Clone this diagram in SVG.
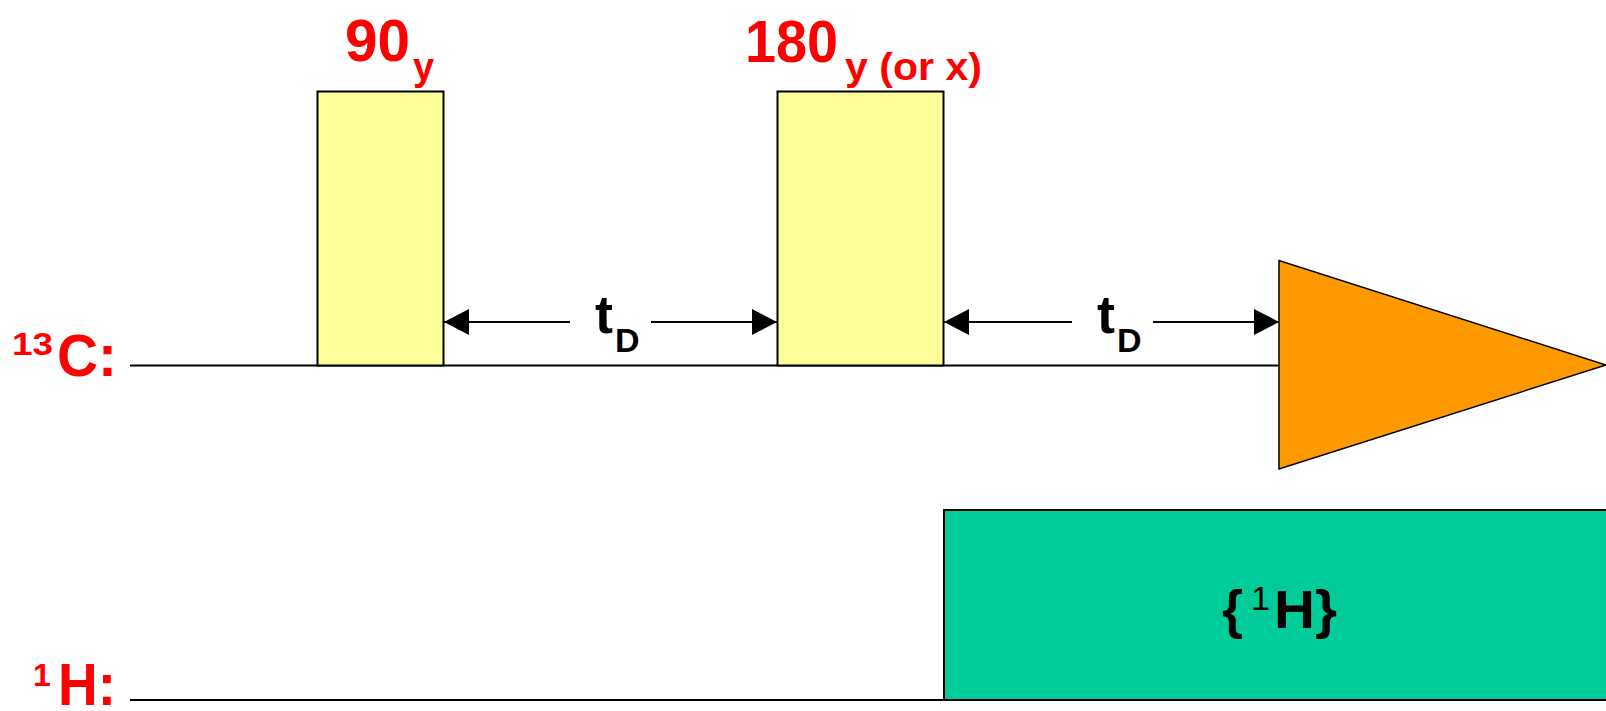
<svg xmlns="http://www.w3.org/2000/svg" width="1606" height="711" viewBox="0 0 1606 711">
<style>
text{font-family:"Liberation Sans",Arial,sans-serif;font-weight:bold}
.red{fill:#ff0000}
.blk{fill:#000}
.base{stroke:#000;stroke-width:2;fill:none}
.pulse{fill:#ffff99;stroke:#000;stroke-width:2}
.arr{stroke:#000;stroke-width:2;fill:none;marker-end:url(#ah)}
</style>
<defs>
<marker id="ah" markerUnits="userSpaceOnUse" markerWidth="26" markerHeight="28" refX="25" refY="13" orient="auto">
<path d="M0,0 L25,13 L0,26 z" fill="#000"/>
</marker>
</defs>
<rect width="1606" height="711" fill="#fff"/>
<g id="channel-13C">
<line class="base" x1="130" y1="365.5" x2="1279" y2="365.5"/>
<text class="red" x="12" y="355" font-size="32" textLength="41" lengthAdjust="spacingAndGlyphs">13</text>
<text class="red" x="57" y="376" font-size="60" textLength="60" lengthAdjust="spacingAndGlyphs">C:</text>
</g>
<g id="channel-1H">
<line class="base" x1="130" y1="700" x2="1606" y2="700"/>
<text class="red" x="33" y="686" font-size="32">1</text>
<text class="red" x="58" y="705" font-size="60" textLength="58" lengthAdjust="spacingAndGlyphs">H:</text>
</g>
<g id="pulse-90">
<rect class="pulse" x="317.5" y="91.5" width="126" height="274"/>
<text class="red" x="345" y="61" font-size="60" textLength="65" lengthAdjust="spacingAndGlyphs">90</text>
<text class="red" x="413" y="80" font-size="38">y</text>
</g>
<g id="pulse-180">
<rect class="pulse" x="777.5" y="91.5" width="166" height="274"/>
<text class="red" x="745" y="62" font-size="60" textLength="93" lengthAdjust="spacingAndGlyphs">180</text>
<text class="red" x="845" y="80" font-size="38" textLength="137" lengthAdjust="spacingAndGlyphs">y (or x)</text>
</g>
<g id="acquisition">
<polygon points="1279,260.5 1279,469 1606,365" fill="#ff9900" stroke="#000" stroke-width="1.5"/>
</g>
<g id="decoupling">
<rect x="944" y="510" width="664" height="190" fill="#00cc99" stroke="#000" stroke-width="2"/>
<text class="blk" x="1222" y="628" font-size="54">{</text>
<text class="blk" x="1251" y="610" font-size="34" style="font-weight:normal">1</text>
<text class="blk" x="1274" y="628" font-size="54" textLength="63" lengthAdjust="spacingAndGlyphs">H}</text>
</g>
<g id="connectors">
<line class="arr" x1="570" y1="322" x2="444" y2="322"/>
<line class="arr" x1="651" y1="322" x2="777" y2="322"/>
<line class="arr" x1="1072" y1="322" x2="944" y2="322"/>
<line class="arr" x1="1153" y1="322" x2="1279" y2="322"/>
</g>
<g id="delay-labels">
<text class="blk" x="595" y="333" font-size="54">t</text>
<text class="blk" x="615" y="352" font-size="34">D</text>
<text class="blk" x="1097" y="333" font-size="54">t</text>
<text class="blk" x="1117" y="352" font-size="34">D</text>
</g>
</svg>
